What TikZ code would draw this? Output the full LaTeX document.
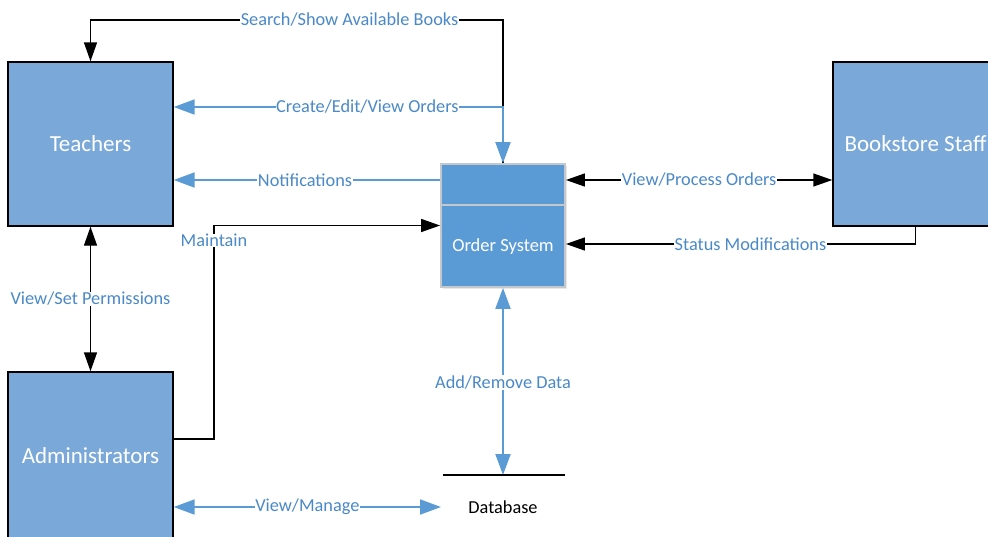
\documentclass[tikz,border=0pt]{standalone}
\usepackage{fontspec}
\setmainfont{Carlito}
\usetikzlibrary{arrows.meta,shadows}
\definecolor{boxfill}{HTML}{7AA8D8}
\definecolor{osfill}{HTML}{5B9BD5}
\definecolor{osborder}{HTML}{C4C8CC}
\definecolor{flowblue}{HTML}{5B9BD5}
\definecolor{lblblue}{HTML}{4A89C8}
\begin{document}
\begin{tikzpicture}[x=1pt,y=-1pt,
  entity/.style={draw=black,line width=1.4pt,fill=boxfill,minimum width=165pt,minimum height=164pt,inner sep=0pt,text=white,font=\fontsize{23}{26}\selectfont},
  ossty/.style={draw=osborder,line width=1.8pt,fill=osfill,minimum width=124pt,minimum height=123pt,inner sep=0pt,
    drop shadow={shadow xshift=1.5pt,shadow yshift=-2pt,opacity=0.18}},
  blk/.style={draw=black,line width=1.4pt},
  blu/.style={draw=flowblue,line width=2pt},
  tipk/.tip={Triangle[length=19pt,width=13pt]},
  tipb/.tip={Triangle[length=21pt,width=15pt]},
  lbl/.style={fill=white,inner sep=0.5pt,text=lblblue,font=\fontsize{18.3}{21}\selectfont}
]
\useasboundingbox (0,0) rectangle (988,536);
\begin{scope}
\clip (0,0) rectangle (988,536);
\node[entity] (teachers) at (90.5,144) {Teachers};
\node[entity,minimum height=168pt] (admins) at (90.5,456) {Administrators};
\node[entity] (staff) at (915.5,144) {Bookstore Staff};
\end{scope}
\node[ossty] (os) at (503,225.5) {};
\draw[osborder,line width=1.5pt] ([yshift=-42pt]os.north west) -- ([yshift=-42pt]os.north east);
\node[text=white,font=\fontsize{18.5}{21}\selectfont] (ostxt) at (503,247) {Order System};

\coordinate (n1) at ([yshift=45.5pt]os.west);
\coordinate (c1) at ([yshift=37pt]teachers.east);
\coordinate (s1) at ([yshift=-18.5pt]os.east);
\coordinate (m0) at ([yshift=17pt]admins.east);
\coordinate (v0) at ([yshift=-51pt]admins.east);
\coordinate (dbL) at (443,475);
\coordinate (dbR) at (565,475);
\coordinate (dbM) at (503,475);
\coordinate (vm) at (441,507);
\coordinate (top) at (503,20);
\coordinate (mx) at (214,439);

% Search/Show Available Books
\draw[blk,-tipk] (os.north) -- (top) -| node[lbl,pos=0.186]{Search/Show Available Books} (teachers.north);
% Create/Edit/View Orders
\draw[blu,tipb-tipb] (c1) -| node[lbl,pos=0.294]{Create/Edit/View Orders} (os.north);
% Notifications
\draw[blu,-tipb] (n1) -- node[lbl,pos=0.507]{Notifications} (n1 -| teachers.east);
% View/Process Orders
\draw[blk,tipk-tipk] (n1 -| os.east) -- node[lbl]{View/Process Orders} (n1 -| staff.west);
% Status Modifications
\draw[blk,-tipk] (staff.south) |- node[lbl,pos=0.736]{Status Modifications} (s1);
% Maintain
\draw[blk,-tipk] (m0) -- (mx) |- node[lbl,pos=0.465]{Maintain} (os.west);
% View/Set Permissions
\draw[blk,tipk-tipk] (teachers.south) -- node[lbl]{View/Set Permissions} (admins.north);
% Add/Remove Data
\draw[blu,tipb-tipb] (os.south) -- node[lbl,pos=0.505]{Add/Remove Data} (dbM);
% Database
\draw[black,line width=1.4pt] (dbL) -- (dbR);
\node[text=black,font=\fontsize{18.3}{21}\selectfont] (db) at (503,507) {Database};
% View/Manage
\draw[blu,tipb-tipb] (v0) -- node[lbl]{View/Manage} (vm);
\end{tikzpicture}
\end{document}
